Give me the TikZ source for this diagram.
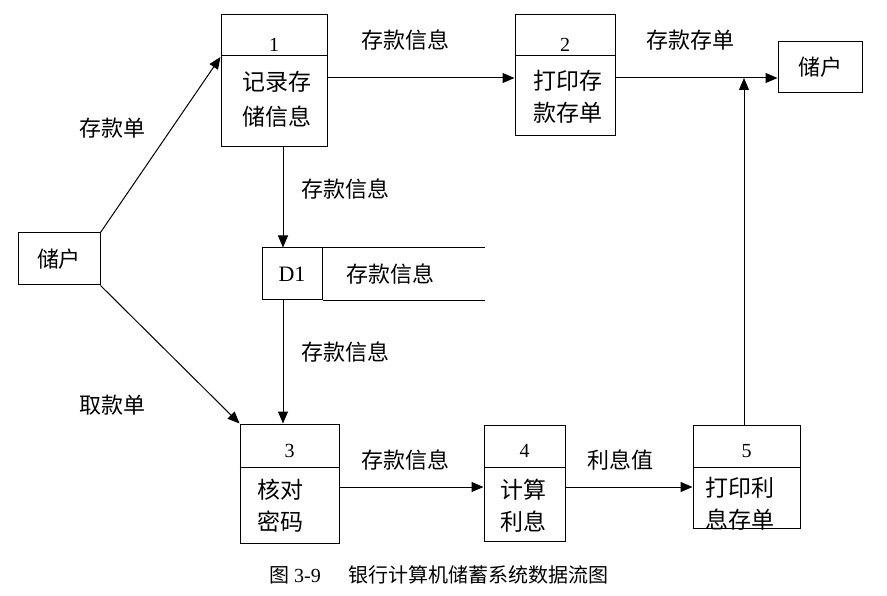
\documentclass[tikz,border=0pt]{standalone}
\usepackage{fontspec}
\setmainfont{Liberation Serif}
\newfontfamily\cjk{Noto Sans CJK SC}
\usetikzlibrary{arrows.meta}

\begin{document}
\begin{tikzpicture}[x=1pt, y=-1pt,
        box/.style={draw, line width=1pt, inner sep=0pt},
        lbl/.style={font=\cjk\fontsize{22}{22}\selectfont, inner sep=0pt},
        boxtxt/.style={font=\cjk\fontsize{23}{32}\selectfont, inner sep=0pt, align=center},
        num/.style={font=\fontsize{20}{20}\selectfont, inner sep=0pt},
        flow/.style={line width=1pt, -{Triangle[length=12pt, width=10pt]}}]

    \useasboundingbox (0,0) rectangle (887,596);

    %external entities
    \node[box, lbl, minimum width=82pt, minimum height=52pt] (user1) at (59,259) {储户};
    \node[box, lbl, minimum width=84pt, minimum height=51pt] (user2) at (820,67.5) {储户};

    %processes
    \node[box, minimum width=106pt, minimum height=132pt] (p1) at (274,80.5) {};
    \draw[line width=1pt] (p1.west |- 0,56) -- (p1.east |- 0,56);
    \node[num] (n1) at (274,45) {1};
    \node[boxtxt, font=\cjk\fontsize{23}{35}\selectfont] (t1) at (277,99.5) {记录存\\储信息};

    \node[box, minimum width=100pt, minimum height=121pt] (p2) at (565,75.5) {};
    \draw[line width=1pt] (p2.west |- 0,56) -- (p2.east |- 0,56);
    \node[num] (n2) at (565,45) {2};
    \node[boxtxt] (t2) at (568,96.5) {打印存\\款存单};

    \node[box, minimum width=99pt, minimum height=119pt] (p3) at (289.5,483.5) {};
    \draw[line width=1pt] (p3.west |- 0,467) -- (p3.east |- 0,467);
    \node[num] (n3) at (289.5,451) {3};
    \node[boxtxt] (t3) at (280,506) {核对\\密码};

    \node[box, minimum width=81pt, minimum height=116pt] (p4) at (524.5,483) {};
    \draw[line width=1pt] (p4.west |- 0,467) -- (p4.east |- 0,467);
    \node[num] (n4) at (524.5,451) {4};
    \node[boxtxt] (t4) at (523,506) {计算\\利息};

    \node[box, minimum width=107pt, minimum height=103pt] (p5) at (746.5,476.5) {};
    \draw[line width=1pt] (p5.west |- 0,467) -- (p5.east |- 0,467);
    \node[num] (n5) at (746.5,451) {5};
    \node[boxtxt] (t5) at (740,504) {打印利\\息存单};

    %data store
    \node[box, minimum width=60pt, minimum height=52pt] (d1) at (292,274) {};
    \node[num, font=\fontsize{22}{22}\selectfont] (d1n) at (d1) {D1};
    \draw[line width=1pt] (d1.north east) -- ++(162,0);
    \draw[line width=1pt] (d1.south east) -- ++(162,0);
    \node[lbl] (d1t) at (390,274) {存款信息};

    %flows
    \coordinate (j) at (744,78);
    \draw[flow] (user1.north east) -- (p1.west |- 0,57);
    \draw[flow] (user1.south east) -- (p3.north west);
    \draw[flow] (p1.east |- 0,78) -- (p2.west |- 0,78);
    \draw[flow] (p2.east |- 0,78) -- (user2.west |- 0,78);
    \draw[flow] (p1.south -| 283,0) -- (d1.north -| 283,0);
    \draw[flow] (d1.south -| 283,0) -- (p3.north -| 283,0);
    \draw[flow] (p3.east |- 0,487) -- (p4.west |- 0,487);
    \draw[flow] (p4.east |- 0,487) -- (p5.west |- 0,487);
    \draw[flow] (p5.north -| j) -- (j);

    %flow labels
    \node[lbl] (f1) at (112,128) {存款单};
    \node[lbl] (f2) at (112,405) {取款单};
    \node[lbl] (f3) at (405,40) {存款信息};
    \node[lbl] (f4) at (690,40) {存款存单};
    \node[lbl] (f5) at (345,189) {存款信息};
    \node[lbl] (f6) at (345,352) {存款信息};
    \node[lbl] (f7) at (405,460) {存款信息};
    \node[lbl] (f8) at (620,460) {利息值};

    %caption
    \node[font=\fontsize{20}{20}\selectfont, inner sep=0pt] (cap) at (439,575)
        {{\cjk 图} 3-9\hspace{1.4em}{\cjk 银行计算机储蓄系统数据流图}};
\end{tikzpicture}
\end{document}
